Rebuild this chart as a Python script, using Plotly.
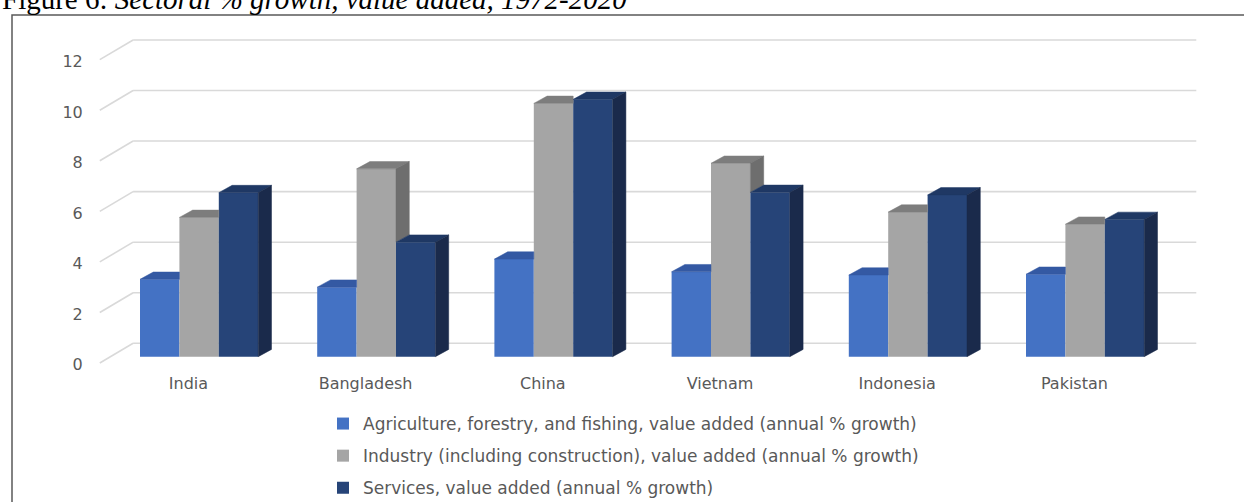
import plotly.graph_objects as go

# ---------------- data ----------------
countries = ["India", "Bangladesh", "China", "Vietnam", "Indonesia", "Pakistan"]
agriculture = [3.06, 2.75, 3.86, 3.36, 3.23, 3.26]
industry = [5.51, 7.43, 10.02, 7.65, 5.72, 5.24]
services = [6.49, 4.53, 10.18, 6.50, 6.40, 5.43]
series_names = [
    "Agriculture, forestry, and fishing, value added (annual % growth)",
    "Industry (including construction), value added (annual % growth)",
    "Services, value added (annual % growth)",
]
y_ticks = [0, 2, 4, 6, 8, 10, 12]
title_plain = "Figure 6: "
title_italic = "Sectoral % growth, value added, 1972-2020"

# ---------------- styling / geometry ----------------
W, H = 1244, 502
L, R, T, B = 90, 1210, 30, 372
PX_X, PX_Y = 177.2, 25.28          # pixels per category / per unit
X0_PX, Y0_PX = 199.1, 356.7        # pixel of x=0 / y=0 (bar front plane)
x_range = [(L - X0_PX) / PX_X, (R - X0_PX) / PX_X]
y_range = [(Y0_PX - B) / PX_Y, (Y0_PX - T) / PX_Y]

BARGAP = 0.333
w = (1 - BARGAP) / 3
DX, DY = 13.3 / PX_X, 7.3 / PX_Y           # bar depth offset
DXB, DYB = 22.6 / PX_X, 13.4 / PX_Y        # back wall offset
DXF, DYF = -10.7 / PX_X, -6.3 / PX_Y       # floor front offset

front_colors = ["#4472C4", "#A5A5A5", "#264478"]
top_colors = ["#3459A3", "#7D7D7D", "#1F3864"]
side_colors = ["#2B4A86", "#6E6E6E", "#1A2A4B"]
grid_color = "#D9D9D9"
text_color = "#595959"
FONT = "DejaVu Sans"

series = [agriculture, industry, services]

fig = go.Figure()

# front faces (bars)
for k, vals in enumerate(series):
    fig.add_trace(go.Bar(
        x=list(range(len(countries))), y=vals, width=w, offset=(k - 1.5) * w,
        marker=dict(color=front_colors[k], line=dict(width=0)),
        name=series_names[k], legendgroup=f"g{k}",
    ))

# top and side faces
for k, vals in enumerate(series):
    tx, ty, sx, sy = [], [], [], []
    for i, h in enumerate(vals):
        l = i + (k - 1.5) * w
        r = l + w
        nh = series[k + 1][i] if k < 2 else 0.0
        if k < 2 and nh >= h + DY / 2:
            px = [l, r, r, l + DX, l]
            py = [h, h, h + DY, h + DY, h]
        else:
            px = [l, r, r + DX, l + DX, l]
            py = [h, h, h + DY, h + DY, h]
        tx += px + [None]
        ty += py + [None]
        if h > nh:
            sx += [r, r + DX, r + DX, r, r, None]
            sy += [nh, nh + DY, h + DY, h, nh, None]
    fig.add_trace(go.Scatter(x=tx, y=ty, mode="lines", fill="toself",
                             fillcolor=top_colors[k], line=dict(width=0.5, color=top_colors[k]),
                             showlegend=False, hoverinfo="skip"))
    if sx:
        fig.add_trace(go.Scatter(x=sx, y=sy, mode="lines", fill="toself",
                                 fillcolor=side_colors[k], line=dict(width=0.5, color=side_colors[k]),
                                 showlegend=False, hoverinfo="skip"))

# back wall gridlines + left diagonal lines
n = len(countries)
shapes = []
for v in y_ticks:
    shapes.append(dict(type="line", xref="x", yref="y", layer="below",
                       x0=-0.5 + DXB, x1=n - 0.5 + DXB, y0=v + DYB, y1=v + DYB,
                       line=dict(color=grid_color, width=1.6)))
    shapes.append(dict(type="line", xref="x", yref="y", layer="below",
                       x0=-0.5 + DXF, x1=-0.5 + DXB, y0=v + DYF, y1=v + DYB,
                       line=dict(color=grid_color, width=1.6)))

# outer frame
pw, ph = R - L, B - T
shapes.append(dict(type="rect", xref="paper", yref="paper", layer="above",
                   x0=(12 - L) / pw, x1=(1260 - L) / pw,
                   y0=(B - 15) / ph, y1=(B - 520) / ph,
                   line=dict(color="#595959", width=1.5), fillcolor="rgba(0,0,0,0)"))

fig.update_layout(
    width=W, height=H,
    margin=dict(l=L, r=W - R, t=T, b=H - B, pad=0, autoexpand=False),
    paper_bgcolor="white", plot_bgcolor="white",
    barmode="overlay",
    shapes=shapes,
    showlegend=True,
    legend=dict(
        x=(323 - L) / pw, y=(B - 406) / ph, xanchor="left", yanchor="top",
        font=dict(family=FONT, size=17, color=text_color),
        tracegroupgap=7, traceorder="grouped", bgcolor="rgba(0,0,0,0)",
    ),
    xaxis=dict(
        range=x_range, showgrid=False, zeroline=False, showline=False,
        tickmode="array", tickvals=[i + DXF for i in range(n)], ticktext=countries,
        ticks="",
        tickfont=dict(family=FONT, size=16, color=text_color),
    ),
    yaxis=dict(
        range=y_range, showgrid=False, zeroline=False, showline=False,
        tickmode="array", tickvals=[v - 0.32 for v in y_ticks], ticktext=[str(v) for v in y_ticks],
        ticks="outside", ticklen=3, tickcolor="rgba(0,0,0,0)",
        tickfont=dict(family=FONT, size=16, color=text_color),
    ),
    annotations=[dict(
        xref="paper", yref="paper", x=(0 - L) / pw, y=(B - 17) / ph,
        xanchor="left", yanchor="bottom", showarrow=False,
        text=f"{title_plain}<i>{title_italic}</i>",
        font=dict(family="Liberation Serif", size=29, color="black"),
    )],
)

fig.write_html("out.html")
